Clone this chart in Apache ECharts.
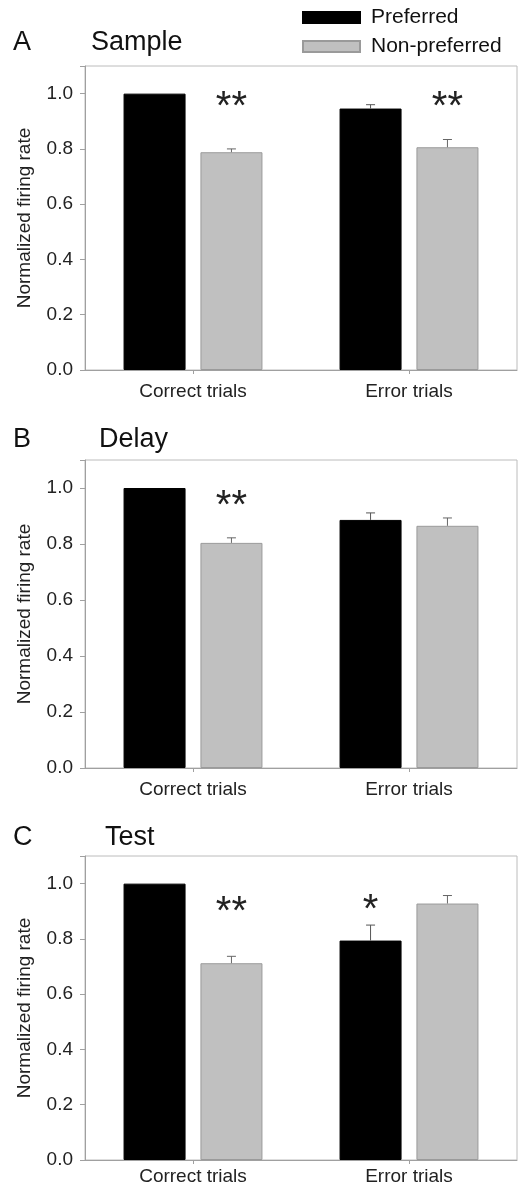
<!DOCTYPE html>
<html>
<head>
<meta charset="utf-8">
<script src="https://cdn.jsdelivr.net/npm/echarts@6/dist/echarts.min.js"></script>
<style>
  html, body { margin: 0; padding: 0; background: #fff; }
  #chart { width: 526px; height: 1186px; }
</style>
</head>
<body>
<div id="chart"></div>
<script>
// data
var categories = ['Correct trials', 'Error trials'];
var seriesNames = ['Preferred', 'Non-preferred'];
var panelLetters = ['A', 'B', 'C'];
var panelTitles = ['Sample', 'Delay', 'Test'];
var yTicks = [0, 0.2, 0.4, 0.6, 0.8, 1.0];

// [correct, error] per panel
var preferredA = [1.0, 0.946];
var nonPreferredA = [0.788, 0.806];
var preferredErrA = [1.0, 0.96];
var nonPreferredErrA = [0.80, 0.834];

var preferredB = [1.0, 0.886];
var nonPreferredB = [0.804, 0.865];
var preferredErrB = [1.0, 0.911];
var nonPreferredErrB = [0.822, 0.893];

var preferredC = [1.0, 0.794];
var nonPreferredC = [0.712, 0.928];
var preferredErrC = [1.0, 0.85];
var nonPreferredErrC = [0.737, 0.957];

// significance marks: [category, series(0 pref / 1 non-pref), level, text]
var sigA = [[0, 1, 0.978, '**'], [1, 1, 0.978, '**']];
var sigB = [[0, 1, 0.962, '**']];
var sigC = [[0, 1, 0.924, '**'], [1, 0, 0.93, '*']];

var panels = [
  {pref: preferredA, non: nonPreferredA, prefErr: preferredErrA, nonErr: nonPreferredErrA, sig: sigA},
  {pref: preferredB, non: nonPreferredB, prefErr: preferredErrB, nonErr: nonPreferredErrB, sig: sigB},
  {pref: preferredC, non: nonPreferredC, prefErr: preferredErrC, nonErr: nonPreferredErrC, sig: sigC}
];

var gridTops = [66, 460, 856];
var gridHeights = [304, 308, 304];
var titleTops = [24, 421, 819];
var titleLefts = [86, 94, 100];
var labelMargins = [12, 12, 7];
var BAR_W = 62, BAR_GAP = 0.24;
var OFFSET = (BAR_W + BAR_W * BAR_GAP) / 2;
var FONT = 'Liberation Sans, Arial, sans-serif';

var myChart = echarts.init(document.getElementById('chart'));

var grid = [], xAxis = [], yAxis = [], series = [], title = [];

panels.forEach(function (p, i) {
  grid.push({left: 85, width: 432, top: gridTops[i], height: gridHeights[i],
    outerBoundsMode: 'none',
    show: true, borderColor: '#bcbcbc', borderWidth: 1, backgroundColor: 'transparent'});

  title.push({text: panelLetters[i], left: 8, top: titleTops[i],
    textStyle: {fontFamily: FONT, fontSize: 27, fontWeight: 'normal', color: '#111'}});
  title.push({text: panelTitles[i], left: titleLefts[i], top: titleTops[i],
    textStyle: {fontFamily: FONT, fontSize: 27, fontWeight: 'normal', color: '#111'}});

  xAxis.push({type: 'category', gridIndex: i, data: categories,
    axisLine: {lineStyle: {color: '#a0a0a0'}},
    axisTick: {show: true, alignWithLabel: true, length: 4, lineStyle: {color: '#a0a0a0'}},
    axisLabel: {fontFamily: FONT, fontSize: 19, color: '#222', margin: labelMargins[i]}});

  yAxis.push({type: 'value', gridIndex: i, min: 0, max: 1.1, interval: 0.2,
    name: 'Normalized firing rate', nameLocation: 'middle', nameGap: 51,
    nameTextStyle: {fontFamily: FONT, fontSize: 19, color: '#222'},
    axisLine: {show: true, lineStyle: {color: '#a0a0a0'}},
    axisTick: {show: true, length: 5, lineStyle: {color: '#a0a0a0'}},
    splitLine: {show: false},
    axisLabel: {fontFamily: FONT, fontSize: 19, color: '#222', margin: 12,
      formatter: function (v) { return yTicks.indexOf(Math.round(v * 10) / 10) >= 0 ? v.toFixed(1) : ''; }}});

  series.push({name: seriesNames[0], type: 'bar', xAxisIndex: i, yAxisIndex: i,
    data: p.pref, barWidth: BAR_W, barGap: (BAR_GAP * 100) + '%',
    itemStyle: {color: '#000', borderColor: '#000', borderWidth: 1}});
  series.push({name: seriesNames[1], type: 'bar', xAxisIndex: i, yAxisIndex: i,
    data: p.non, barWidth: BAR_W,
    itemStyle: {color: '#c0c0c0', borderColor: '#9a9a9a', borderWidth: 1}});

  // error bars (upper only)
  var errData = [];
  for (var k = 0; k < categories.length; k++) {
    errData.push([k, p.pref[k], p.prefErr[k], 0]);
    errData.push([k, p.non[k], p.nonErr[k], 1]);
  }
  series.push({type: 'custom', xAxisIndex: i, yAxisIndex: i, data: errData, z: 5,
    silent: true,
    renderItem: function (params, api) {
      var cat = api.value(0), lo = api.value(1), hi = api.value(2), s = api.value(3);
      if (hi - lo < 0.003) return null;
      var base = api.coord([cat, lo]);
      var top = api.coord([cat, hi]);
      var x = base[0] + (s === 0 ? -OFFSET : OFFSET);
      var style = {stroke: s === 0 ? '#555' : '#666', lineWidth: 1};
      return {type: 'group', children: [
        {type: 'line', shape: {x1: x, y1: base[1], x2: x, y2: top[1]}, style: style},
        {type: 'line', shape: {x1: x - 4.5, y1: top[1], x2: x + 4.5, y2: top[1]}, style: style}
      ]};
    }});

  // significance asterisks
  series.push({type: 'custom', xAxisIndex: i, yAxisIndex: i, data: p.sig, z: 6,
    silent: true,
    renderItem: function (params, api) {
      var cat = api.value(0), s = api.value(1), lvl = api.value(2);
      var txt = p.sig[params.dataIndex][3];
      var pt = api.coord([cat, lvl]);
      var x = pt[0] + (s === 0 ? -OFFSET : OFFSET);
      return {type: 'text', x: x, y: pt[1] + 8,
        style: {text: txt, fontFamily: FONT, fontSize: 40, fill: '#222',
          align: 'center', verticalAlign: 'middle'}};
    }});
});

var option = {
  backgroundColor: '#fff',
  animation: false,
  title: title,
  legend: {
    data: seriesNames, orient: 'vertical', left: 297, top: 2,
    icon: 'rect', itemWidth: 57, itemHeight: 11, itemGap: 8,
    textStyle: {fontFamily: FONT, fontSize: 21, color: '#111', padding: [0, 0, 0, 6]},
    selectedMode: false
  },
  grid: grid,
  xAxis: xAxis,
  yAxis: yAxis,
  series: series
};
myChart.setOption(option);
</script>
</body>
</html>
